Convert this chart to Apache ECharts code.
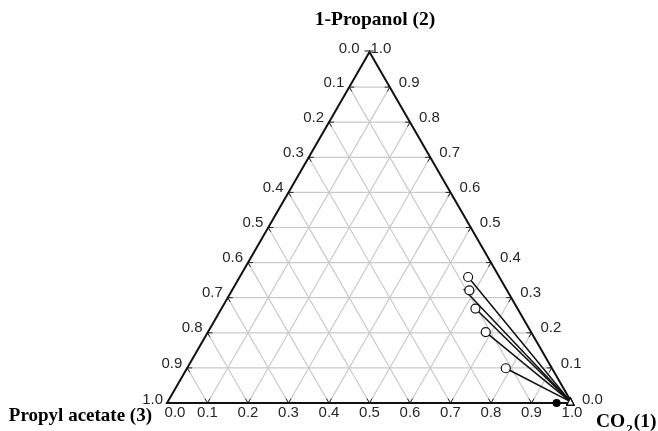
<!DOCTYPE html>
<html>
<head>
<meta charset="utf-8">
<script src="https://cdn.jsdelivr.net/npm/echarts@6/dist/echarts.min.js"></script>
<style>html,body{margin:0;padding:0;background:#fff}#chart{width:658px;height:431px}</style>
</head>
<body>
<div id="chart"></div>
<script>
// ---- data (ternary mole fractions: x1 = CO2, x2 = 1-Propanol) ----
const tickValues = [0.0, 0.1, 0.2, 0.3, 0.4, 0.5, 0.6, 0.7, 0.8, 0.9, 1.0];
const gridValues = [0.1, 0.2, 0.3, 0.4, 0.5, 0.6, 0.7, 0.8, 0.9];
const bottomLabels = ['0.0','0.1','0.2','0.3','0.4','0.5','0.6','0.7','0.8','0.9','1.0'];
const leftLabels   = ['1.0','0.9','0.8','0.7','0.6','0.5','0.4','0.3','0.2','0.1','0.0'];
const rightLabels  = ['0.0','0.1','0.2','0.3','0.4','0.5','0.6','0.7','0.8','0.9','1.0'];

// liquid phase (open circles)
const liquidCO2      = [0.564, 0.586, 0.627, 0.686, 0.787];
const liquidPropanol = [0.359, 0.321, 0.269, 0.202, 0.099];
// tie line liquid ends
const tieCO2      = [0.564, 0.570, 0.627, 0.686, 0.787];
const tiePropanol = [0.359, 0.325, 0.269, 0.202, 0.099];
// vapour phase ends
const vaporCO2      = [0.994, 0.994, 0.994, 0.994, 0.994];
const vaporPropanol = [0.004, 0.004, 0.004, 0.004, 0.004];
// filled point on the CO2 / propyl acetate edge
const solidCO2 = [0.962];
const solidPropanol = [0.0];

const titleTop = '1-Propanol (2)';
const titleLeft = 'Propyl acetate (3)';

const S = Math.sqrt(3) / 2;
function cart(x1, x2) { return [x1 + x2 / 2, x2 * S]; }

const chart = echarts.init(document.getElementById('chart'), null, {renderer: 'canvas'});

const gridColor = '#c9c9c9';
const tickFont = '15px "Liberation Sans", Arial, sans-serif';
const titleFont = 'bold 19.5px "Liberation Serif", "Times New Roman", serif';
const titleFontLeft = 'bold 19px "Liberation Serif", "Times New Roman", serif';

function seg(p, d, len, color, w) {
  return {type: 'line', shape: {x1: p[0], y1: p[1], x2: p[0] + d[0] * len, y2: p[1] + d[1] * len},
          style: {stroke: color, lineWidth: w}};
}
function txt(x, y, t, align, font) {
  return {type: 'text', x: x, y: y, style: {text: t, font: font, fill: '#262626',
          align: align, textAlign: align, verticalAlign: 'middle', textVerticalAlign: 'middle'}};
}

const option = {
  animation: false,
  grid: {left: 167, width: 405, top: 52, height: 351},
  xAxis: {type: 'value', min: 0, max: 1, show: false},
  yAxis: {type: 'value', min: 0, max: S, show: false},
  series: [
    { // grid lines
      type: 'custom', coordinateSystem: 'cartesian2d', silent: true, z: 1,
      data: gridValues.map(v => [v]),
      renderItem: function (params, api) {
        const t = api.value(0);
        const L = (a, b) => {
          const p = api.coord(a), q = api.coord(b);
          return {type: 'line', shape: {x1: p[0], y1: p[1], x2: q[0], y2: q[1]},
                  style: {stroke: gridColor, lineWidth: 1.2}};
        };
        return {type: 'group', children: [
          L(cart(0, t), cart(1 - t, t)),
          L(cart(t, 0), cart(t, 1 - t)),
          L(cart(1 - t, 0), cart(0, 1 - t))
        ]};
      }
    },
    { // ticks and tick labels
      type: 'custom', coordinateSystem: 'cartesian2d', silent: true, z: 3,
      data: tickValues.map((v, i) => [v, i]),
      renderItem: function (params, api) {
        const v = api.value(0), i = api.value(1);
        const ch = [];
        const b = api.coord(cart(v, 0));
        const l = api.coord(cart(0, v));
        const r = api.coord(cart(1 - v, v));
        const tc = '#222', tl = 5;
        if (i > 0 && i < 10) {
          ch.push(seg(b, [-0.5, -S], tl, tc, 1), seg(b, [0.5, -S], tl, tc, 1));
          ch.push(seg(l, [1, 0], tl, tc, 1), seg(l, [0.5, S], tl, tc, 1));
          ch.push(seg(r, [-1, 0], tl, tc, 1), seg(r, [-0.5, S], tl, tc, 1));
        }
        // bottom labels
        ch.push(txt(b[0] + (i === 0 ? 8 : 0), b[1] + 10, bottomLabels[i], 'center', tickFont));
        // left labels
        if (i === 10) ch.push(txt(l[0] - 10, l[1] - 3, leftLabels[i], 'right', tickFont));
        else if (i === 0) ch.push(txt(l[0] - 4, l[1] - 3, leftLabels[i], 'right', tickFont));
        else ch.push(txt(l[0] - 5, l[1] - 4.5, leftLabels[i], 'right', tickFont));
        // right labels
        if (i === 10) ch.push(txt(r[0] + 1, r[1] - 3, rightLabels[i], 'left', tickFont));
        else if (i === 0) ch.push(txt(r[0] + 10, r[1] - 3, rightLabels[i], 'left', tickFont));
        else ch.push(txt(r[0] + 9, r[1] - 4.5, rightLabels[i], 'left', tickFont));
        return {type: 'group', children: ch};
      }
    },
    { // triangle frame and apex tick
      type: 'custom', coordinateSystem: 'cartesian2d', silent: true, z: 4,
      data: [[0]],
      renderItem: function (params, api) {
        const a = api.coord(cart(0, 0)), c = api.coord(cart(1, 0)), t = api.coord(cart(0, 1));
        return {type: 'group', children: [
          {type: 'polygon', shape: {points: [a, c, t]}, style: {fill: 'none', stroke: '#111', lineWidth: 2}},
          {type: 'line', shape: {x1: t[0] - 5, y1: t[1] - 1, x2: t[0] + 4, y2: t[1] - 1}, style: {stroke: '#111', lineWidth: 1}}
        ]};
      }
    },
    { // tie lines
      type: 'custom', coordinateSystem: 'cartesian2d', silent: true, z: 5,
      data: tieCO2.map((x, i) => [x, tiePropanol[i], vaporCO2[i], vaporPropanol[i]]),
      renderItem: function (params, api) {
        const p = api.coord(cart(api.value(0), api.value(1)));
        const q = api.coord(cart(api.value(2), api.value(3)));
        return {type: 'line', shape: {x1: p[0], y1: p[1], x2: q[0], y2: q[1]},
                style: {stroke: '#111', lineWidth: 1.5}};
      }
    },
    { // liquid points
      type: 'scatter', z: 6, symbol: 'circle', symbolSize: 9,
      itemStyle: {color: '#fff', borderColor: '#111', borderWidth: 1.2, opacity: 1},
      data: liquidCO2.map((x, i) => cart(x, liquidPropanol[i]))
    },
    { // vapour points
      type: 'scatter', z: 6, symbol: 'triangle', symbolSize: 7,
      itemStyle: {color: '#fff', borderColor: '#111', borderWidth: 1.2, opacity: 1},
      data: vaporCO2.map((x, i) => cart(x, vaporPropanol[i]))
    },
    { // filled point
      type: 'scatter', z: 6, symbol: 'circle', symbolSize: 8,
      itemStyle: {color: '#000', opacity: 1},
      data: solidCO2.map((x, i) => cart(x, solidPropanol[i]))
    }
  ],
  graphic: [
    {type: 'text', x: 375, y: 20, style: {text: titleTop, font: titleFont, fill: '#000', align: 'center', textAlign: 'center', verticalAlign: 'middle', textVerticalAlign: 'middle'}},
    {type: 'text', x: 152, y: 416, style: {text: titleLeft, font: titleFontLeft, fill: '#000', align: 'right', textAlign: 'right', verticalAlign: 'middle', textVerticalAlign: 'middle'}},
    {type: 'text', x: 596, y: 421, style: {
      text: '{a|CO}{s|2}{a|(1)}', fill: '#000', verticalAlign: 'middle', textVerticalAlign: 'middle',
      rich: {
        a: {font: titleFont, fill: '#000', color: '#000', verticalAlign: 'bottom', lineHeight: 22},
        s: {font: 'bold 13px "Liberation Serif", "Times New Roman", serif', fill: '#000', color: '#000', verticalAlign: 'bottom', lineHeight: 22, padding: [0, 1, -4, 1]}
      }}}
  ]
};
chart.setOption(option);
</script>
</body>
</html>
